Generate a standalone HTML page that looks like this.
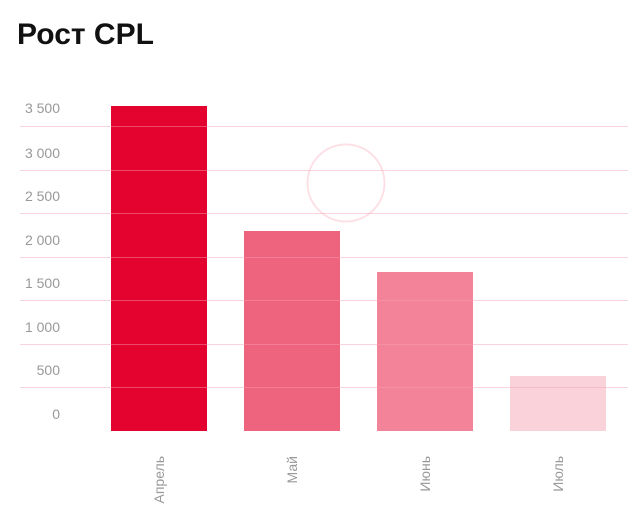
<!DOCTYPE html>
<html><head><meta charset="utf-8"><style>
body{margin:0;background:#fff;width:640px;height:510px;overflow:hidden;font-family:"Liberation Sans",sans-serif}
</style></head><body>
<svg width="640" height="510" xmlns="http://www.w3.org/2000/svg">
<text x="17" y="44" font-size="30" font-weight="bold" fill="#111">Рост CPL</text>
<g font-size="14" fill="#999" text-anchor="end">
<text x="60" y="113">3 500</text>
<text x="60" y="158">3 000</text>
<text x="60" y="201">2 500</text>
<text x="60" y="245">2 000</text>
<text x="60" y="288">1 500</text>
<text x="60" y="332">1 000</text>
<text x="60" y="375">500</text>
<text x="60" y="419">0</text>
</g>
<circle cx="346" cy="183" r="38.5" fill="none" stroke="#fde0e6" stroke-width="2"/>
<rect x="111" y="106" width="96" height="325" fill="#e4032e"/>
<rect x="244" y="231" width="96" height="200" fill="#e4032e" fill-opacity="0.62"/>
<rect x="377" y="272" width="96" height="159" fill="#e4032e" fill-opacity="0.49"/>
<rect x="510" y="376" width="96" height="55" fill="#e4032e" fill-opacity="0.18"/>
<g stroke="#f4a0b4" stroke-opacity="0.45" stroke-width="1">
<line x1="20" x2="628" y1="126.5" y2="126.5"/>
<line x1="20" x2="628" y1="170.5" y2="170.5"/>
<line x1="20" x2="628" y1="213.5" y2="213.5"/>
<line x1="20" x2="628" y1="257.5" y2="257.5"/>
<line x1="20" x2="628" y1="300.5" y2="300.5"/>
<line x1="20" x2="628" y1="344.5" y2="344.5"/>
<line x1="20" x2="628" y1="387.5" y2="387.5"/>
</g>
<g font-size="14" fill="#999" text-anchor="end">
<text transform="translate(164,456) rotate(-90)">Апрель</text>
<text transform="translate(297,456) rotate(-90)">Май</text>
<text transform="translate(430,456) rotate(-90)">Июнь</text>
<text transform="translate(563,456) rotate(-90)">Июль</text>
</g>
</svg>
</body></html>
